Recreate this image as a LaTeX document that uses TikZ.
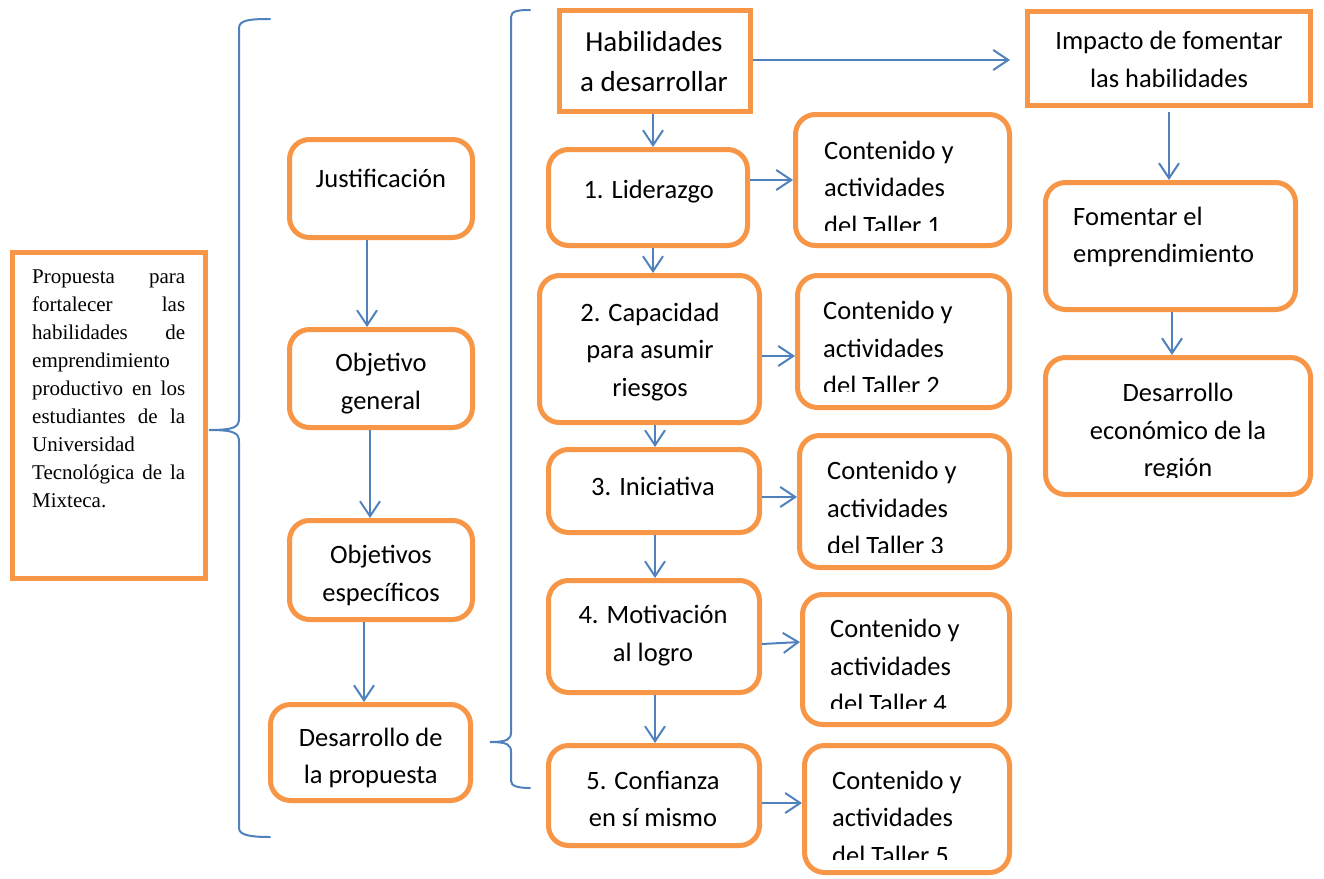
\documentclass[tikz,border=0pt]{standalone}
\usepackage{fontspec}
\setmainfont{Carlito}
\newfontfamily\tnrfont{Liberation Serif}
\usetikzlibrary{arrows.meta}
\definecolor{borange}{HTML}{F79646}
\definecolor{lblue}{HTML}{4F81BD}
\tikzset{
  rbox/.style={draw=borange, line width=5pt, rounded corners=20pt, inner sep=0pt, fill=white},
  sbox/.style={draw=borange, line width=5pt, inner sep=0pt, fill=white},
  lbl/.style={font=\fontsize{26.5}{37.5}\selectfont, align=center, inner sep=0pt,
    execute at begin node=\strut, execute at end node=\strut},
  lbll/.style={lbl, align=left},
  arr/.style={draw=lblue, line width=2pt, -{Straight Barb[length=15pt,width=20pt]}},
  bracepath/.style={draw=lblue, line width=2pt, line cap=round},
}
\begin{document}
\begin{tikzpicture}[x=1pt,y=-1pt]
\useasboundingbox (0,0) rectangle (1324,878);

% ---------- left box ----------
\node[sbox, minimum width=193pt, minimum height=326pt] (prop) at (109,415.5) {};
\node[font=\tnrfont\fontsize{21}{28}\selectfont, align=left, inner sep=0pt, anchor=north west] (propt) at (32,264)
 {\strut\makebox[153pt][s]{Propuesta para}\\
  \makebox[153pt][s]{fortalecer las}\\
  \makebox[153pt][s]{habilidades de}\\
  emprendimiento\\
  \makebox[153pt][s]{productivo en los}\\
  \makebox[153pt][s]{estudiantes de la}\\
  Universidad\\
  \makebox[153pt][s]{Tecnológica de la}\\
  Mixteca.\strut};

% ---------- braces ----------
\coordinate (b1tip) at (209,430);
\draw[bracepath] (270,19) .. controls (250,19) and (239,20) .. (239,28) -- (239,418)
  .. controls (239,427) and (235,430) .. (b1tip)
  .. controls (235,430) and (239,433) .. (239,442) -- (239,828)
  .. controls (239,835) and (250,837) .. (270,837);
\coordinate (b2tip) at (490,742);
\draw[bracepath] (530,10) .. controls (518,10) and (511,11) .. (511,17) -- (511,732)
  .. controls (511,739) and (508,742) .. (b2tip)
  .. controls (508,742) and (511,745) .. (511,752) -- (511,781)
  .. controls (511,786) and (518,788) .. (530,788);

% ---------- second column ----------
\node[rbox, minimum width=183pt, minimum height=98pt] (just) at (381,188.5) {};
\node[lbl] (justt) at (381,179.5) {Justificación};
\node[rbox, minimum width=183pt, minimum height=98pt] (objg) at (381,378.5) {};
\node[lbl] (objgt) at (381,387) {Objetivo\\general};
\node[rbox, minimum width=183pt, minimum height=99pt] (obje) at (381,570) {};
\node[lbl] (objet) at (381,579) {Objetivos\\específicos};
\node[rbox, minimum width=200pt, minimum height=96pt] (desp) at (370.5,752.5) {};
\node[lbl] (despt) at (370.7,761.5) {Desarrollo de\\la propuesta};

% ---------- third column ----------
\node[sbox, minimum width=191pt, minimum height=101pt] (hab) at (655,61) {};
\node[lbl, font=\fontsize{29}{40}\selectfont] (habt) at (654,67.5) {Habilidades\\a desarrollar};
\node[rbox, minimum width=199pt, minimum height=96pt] (lid) at (648,197.5) {};
\node[lbl] (lidt) at (648.7,190.5) {1. Liderazgo};
\node[rbox, minimum width=220pt, minimum height=147pt] (cap) at (649.5,349) {};
\node[lbl] (capt) at (650,355.2) {2. Capacidad\\para asumir\\riesgos};
\node[rbox, minimum width=211pt, minimum height=83pt] (ini) at (654,491) {};
\node[lbl] (init) at (653,487.5) {3. Iniciativa};
\node[rbox, minimum width=211pt, minimum height=112pt] (mot) at (654,636.5) {};
\node[lbl] (mott) at (653,639) {4. Motivación\\al logro};
\node[rbox, minimum width=211pt, minimum height=100pt] (conf) at (654,795.5) {};
\node[lbl] (conft) at (653,804.5) {5. Confianza\\en sí mismo};

% ---------- content boxes ----------
\node[rbox, minimum width=214pt, minimum height=131pt] (c1) at (902.5,180) {};
\begin{scope}
  \clip (793,112) rectangle (1012,230);
  \node[lbll, anchor=west] (c1t) at (824,193.2) {Contenido y\\actividades\\del Taller 1};
\end{scope}
\node[rbox, minimum width=212pt, minimum height=132pt] (c2) at (903.5,341.5) {};
\begin{scope}
  \clip (795,273) rectangle (1012,391);
  \node[lbll, anchor=west] (c2t) at (823,353.8) {Contenido y\\actividades\\del Taller 2};
\end{scope}
\node[rbox, minimum width=210pt, minimum height=132pt] (c3) at (904.5,501.5) {};
\begin{scope}
  \clip (797,433) rectangle (1012,552);
  \node[lbll, anchor=west] (c3t) at (827,513.8) {Contenido y\\actividades\\del Taller 3};
\end{scope}
\node[rbox, minimum width=207pt, minimum height=130pt] (c4) at (906,659.5) {};
\begin{scope}
  \clip (800,592) rectangle (1012,708);
  \node[lbll, anchor=west] (c4t) at (830,671.5) {Contenido y\\actividades\\del Taller 4};
\end{scope}
\node[rbox, minimum width=205pt, minimum height=127pt] (c5) at (907,809) {};
\begin{scope}
  \clip (802,743) rectangle (1012,859);
  \node[lbll, anchor=west] (c5t) at (832,823.2) {Contenido y\\actividades\\del Taller 5};
\end{scope}

% ---------- fourth column ----------
\node[sbox, minimum width=283pt, minimum height=94pt] (imp) at (1169,58.5) {};
\node[lbl] (impt) at (1169,65) {Impacto de fomentar\\las habilidades};
\node[rbox, minimum width=250pt, minimum height=127pt] (fom) at (1170.5,246) {};
\node[lbll, anchor=west] (fomt) at (1073,240.5) {Fomentar el\\emprendimiento};
\node[rbox, minimum width=265pt, minimum height=137pt] (dec) at (1178,426) {};
\begin{scope}
  \clip (1043,355) rectangle (1313,477);
  \node[lbl] (dect) at (1178,435.5) {Desarrollo\\económico de la\\región};
\end{scope}

% ---------- connectors ----------
\draw[arr] ([xshift=-14pt]just.south) -- ([xshift=-14pt]objg.north);
\draw[arr] ([xshift=-11pt]objg.south) -- ([xshift=-11pt]obje.north);
\draw[arr] ([xshift=-17pt]obje.south) -- ([xshift=-6.5pt]desp.north);
\draw[arr] ([xshift=-2pt]hab.south) -- ([xshift=5pt]lid.north);
\draw[arr] ([xshift=5pt]lid.south) -- ([xshift=3.5pt]cap.north);
\draw[arr] ([xshift=5.5pt]cap.south) -- ([xshift=1pt]ini.north);
\draw[arr] ([xshift=1pt]ini.south) -- ([xshift=1pt]mot.north);
\draw[arr] ([xshift=1pt]mot.south) -- ([xshift=1pt]conf.north);
\draw[arr, shorten >=15pt] ([yshift=1pt]hab.east) -- ([yshift=-1.5pt]imp.west);
\draw[arr] ([yshift=17.5pt]lid.east) -- (c1.west);
\draw[arr] ([yshift=-7pt]cap.east) -- ([yshift=-14.5pt]c2.west);
\draw[arr] ([yshift=-6pt]ini.east) -- ([yshift=4.5pt]c3.west);
\draw[arr] ([yshift=-7.5pt]mot.east) -- ([yshift=17.5pt]c4.west);
\draw[arr] ([yshift=-7.5pt]conf.east) -- ([yshift=6pt]c5.west);
\draw[arr] ([yshift=-4pt]imp.south) -- ([xshift=-1.5pt]fom.north);
\draw[arr] ([xshift=1.5pt]fom.south) -- ([xshift=-6pt]dec.north);
\end{tikzpicture}
\end{document}
